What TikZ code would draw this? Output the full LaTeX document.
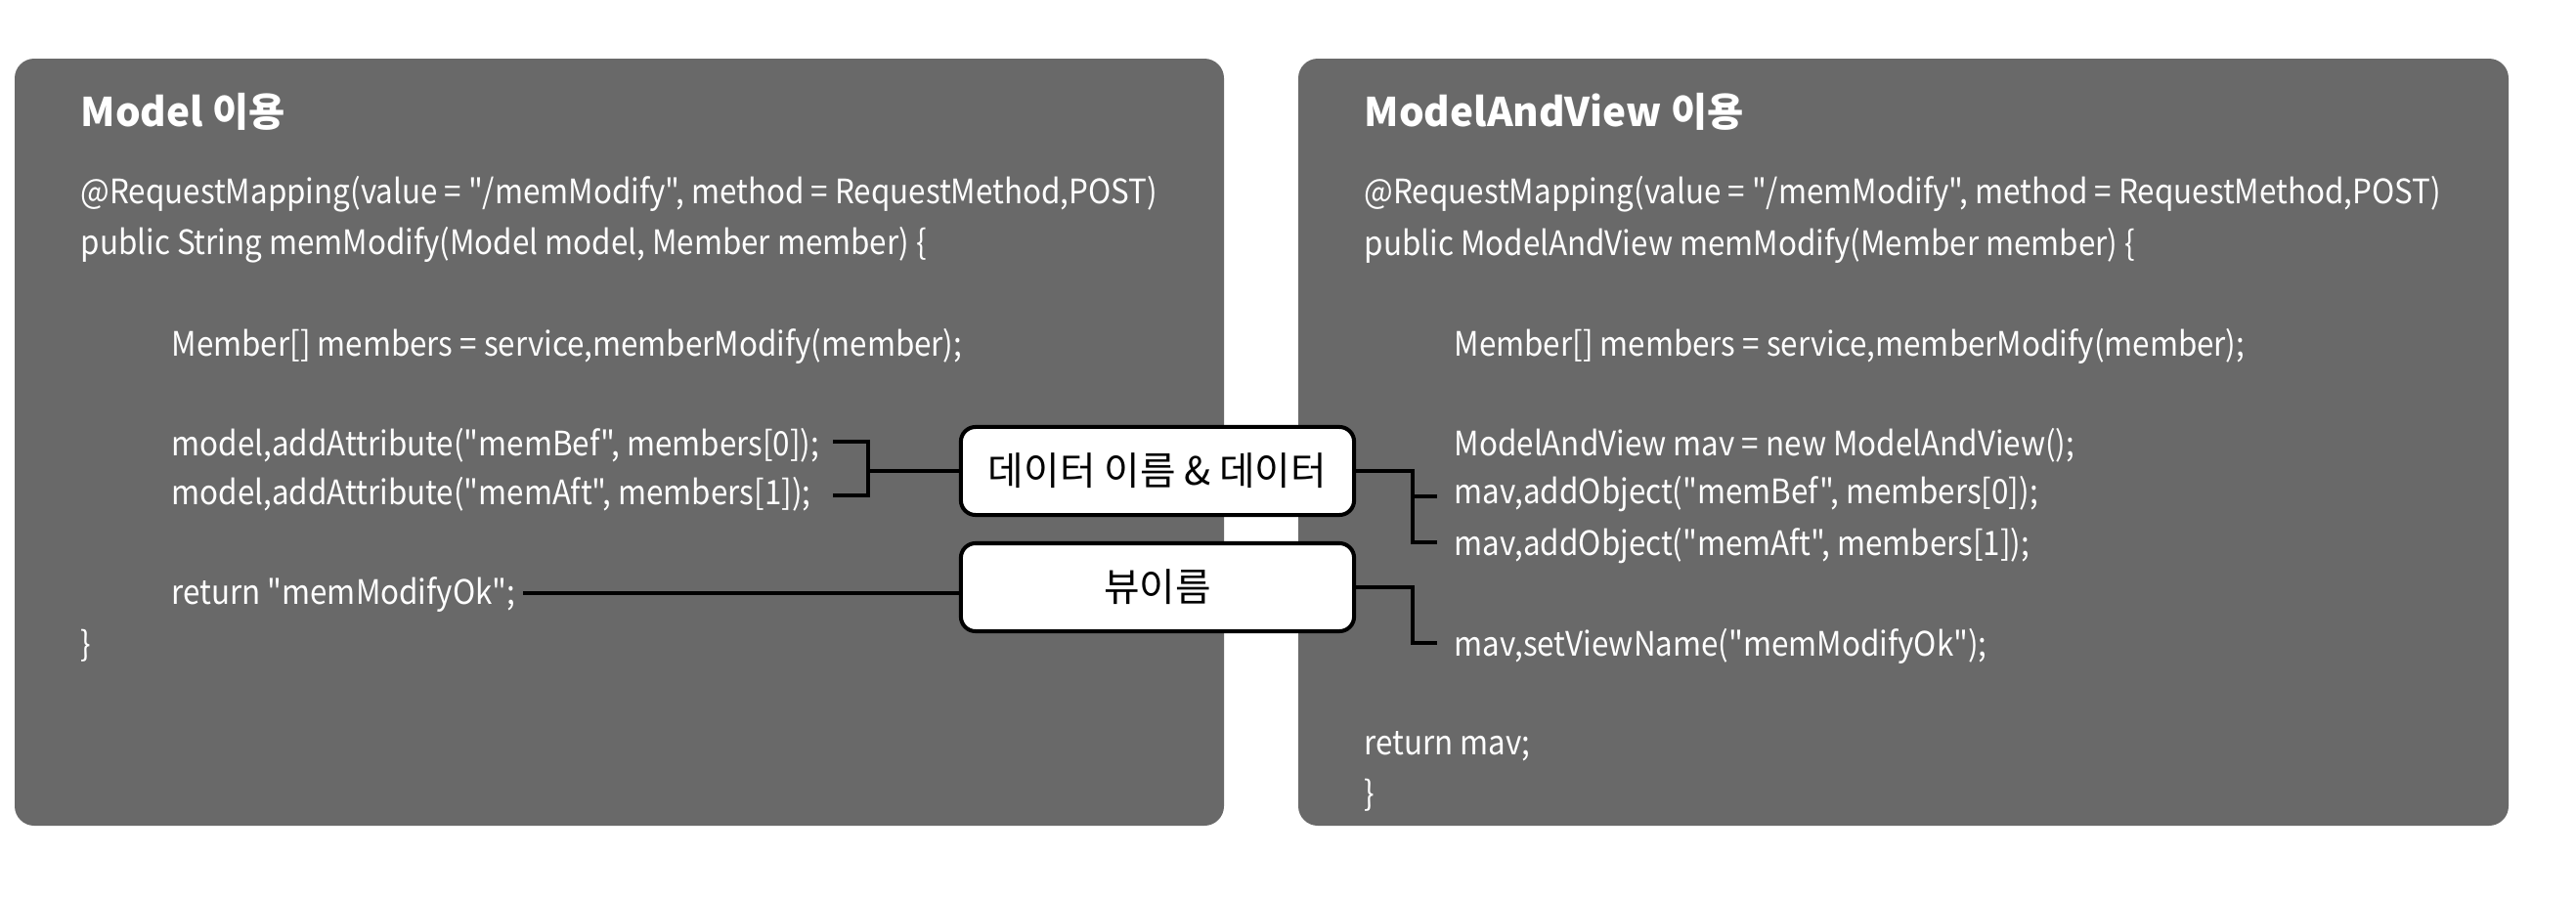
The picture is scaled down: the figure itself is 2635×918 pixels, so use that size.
\documentclass[tikz,border=0pt]{standalone}
\usepackage{fontspec}
\setmainfont{Noto Sans CJK KR}
\newfontfamily\codefont{Noto Sans CJK KR}[FakeStretch=0.91]
\definecolor{panelgray}{RGB}{105,105,105}
\begin{document}
\begin{tikzpicture}[x=0.01cm,y=-0.01cm,
    code/.style={anchor=west,inner sep=0,yshift=-0.04cm,text=white,font=\codefont\fontsize{9.8}{12}\selectfont},
    title/.style={anchor=west,inner sep=0,text=white,font=\bfseries\fontsize{11.5}{14}\selectfont},
    tag/.style={draw,line width=1.15pt,fill=white,rounded corners=0.15cm,
      minimum width=4.02cm,minimum height=0.9cm,font=\fontsize{11.3}{13}\selectfont},
    link/.style={line width=1.15pt}]
  \useasboundingbox (0,0) rectangle (2635,918);
  \fill[panelgray,rounded corners=0.2cm] (15,60) rectangle (1252,845);
  \fill[panelgray,rounded corners=0.2cm] (1328,60) rectangle (2566,845);
  % Model
  \node[title] (lt) at (82,114) {Model 이용};
  \node[code] (l1) at (82,195) {@RequestMapping(value = "/memModify", method = RequestMethod,POST)};
  \node[code] (l2) at (82,247) {public String memModify(Model model, Member member) \{};
  \node[code] (l3) at (175,350) {Member[] members = service,memberModify(member);};
  \node[code] (l4) at (175,452) {model,addAttribute("memBef", members[0]);};
  \node[code] (l5) at (175,502) {model,addAttribute("memAft", members[1]);};
  \node[code] (l6) at (175,605) {return "memModifyOk";};
  \node[code] (l7) at (82,657) {\}};
  % ModelAndView
  \node[title] (rt) at (1395,114) {ModelAndView 이용};
  \node[code] (r1) at (1395,195) {@RequestMapping(value = "/memModify", method = RequestMethod,POST)};
  \node[code] (r2) at (1395,247) {public ModelAndView memModify(Member member) \{};
  \node[code] (r3) at (1487,350) {Member[] members = service,memberModify(member);};
  \node[code] (r4) at (1487,452) {ModelAndView mav = new ModelAndView();};
  \node[code] (r5) at (1487,502) {mav,addObject("memBef", members[0]);};
  \node[code] (r6) at (1487,555) {mav,addObject("memAft", members[1]);};
  \node[code] (r7) at (1487,657) {mav,setViewName("memModifyOk");};
  \node[code] (r8) at (1395,760) {return mav;};
  \node[code] (r9) at (1395,810) {\}};
  % tags
  \node[tag] (data) at (1184,482) {데이터 이름 \& 데이터};
  \node[tag] (view) at (1184,601) {뷰이름};
  \coordinate (lb1) at (852,452);
  \coordinate (lb2) at (852,507);
  \coordinate (lj) at (888,482);
  \coordinate (lr) at (535,607);
  \coordinate (rj1) at (1445,508);
  \coordinate (rj2) at (1445,555);
  \coordinate (rj3) at (1445,658);
  \coordinate (rb1) at (1470,508);
  \coordinate (rb2) at (1470,555);
  \coordinate (rb3) at (1470,658);
  \draw[link] (lb1) -| (lj) |- (lb2);
  \draw[link] (lj) -- (data.west);
  \draw[link] (lr) -- (lr -| view.west);
  \draw[link] (data.east) -| (rj2) -- (rb2);
  \draw[link] (rj1) -- (rb1);
  \draw[link] (view.east) -| (rj3) -- (rb3);
\end{tikzpicture}
\end{document}
